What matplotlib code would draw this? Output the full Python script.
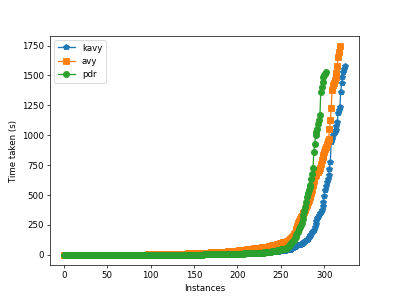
import matplotlib
matplotlib.use("Agg")
import matplotlib.pyplot as plt

# sorted run times (s) per instance
kavy = [
    0.1, 0.1, 0.1, 0.1, 0.1, 0.1, 0.1, 0.1, 0.1, 0.1, 0.1, 0.1, 0.1, 0.1, 0.1, 0.2, 0.2, 0.2, 0.2, 0.2,
    0.2, 0.2, 0.2, 0.2, 0.2, 0.2, 0.2, 0.2, 0.2, 0.2, 0.3, 0.3, 0.3, 0.3, 0.3, 0.3, 0.3, 0.3, 0.3, 0.3,
    0.3, 0.3, 0.3, 0.3, 0.3, 0.4, 0.4, 0.4, 0.4, 0.4, 0.4, 0.4, 0.4, 0.4, 0.4, 0.5, 0.5, 0.5, 0.5, 0.5,
    0.5, 0.5, 0.5, 0.5, 0.5, 0.6, 0.6, 0.6, 0.6, 0.6, 0.6, 0.6, 0.6, 0.6, 0.6, 0.7, 0.7, 0.7, 0.7, 0.7,
    0.8, 0.8, 0.8, 0.8, 0.8, 0.8, 0.8, 0.8, 0.8, 0.8, 0.9, 0.9, 0.9, 0.9, 0.9, 1.0, 1.0, 1.0, 1.0, 1.0,
    1.1, 1.1, 1.2, 1.2, 1.3, 1.3, 1.4, 1.4, 1.5, 1.5, 1.6, 1.6, 1.7, 1.7, 1.8, 1.8, 1.9, 1.9, 2.0, 2.0,
    2.1, 2.1, 2.2, 2.2, 2.3, 2.4, 2.4, 2.5, 2.6, 2.6, 2.7, 2.8, 2.8, 2.9, 3.0, 3.0, 3.1, 3.2, 3.3, 3.3,
    3.4, 3.5, 3.6, 3.6, 3.7, 3.8, 3.9, 4.0, 4.0, 4.1, 4.2, 4.3, 4.4, 4.5, 4.6, 4.7, 4.8, 4.9, 5.0, 5.1,
    5.2, 5.3, 5.4, 5.5, 5.6, 5.7, 5.8, 5.9, 6.0, 6.1, 6.2, 6.3, 6.4, 6.5, 6.6, 6.7, 6.8, 6.9, 7.0, 7.1,
    7.2, 7.4, 7.5, 7.6, 7.8, 7.9, 8.0, 8.2, 8.3, 8.5, 8.6, 8.8, 8.9, 9.1, 9.2, 9.4, 9.6, 9.7, 9.9, 10.1,
    10.2, 10.4, 10.6, 10.8, 11.0, 11.2, 11.4, 11.6, 11.8, 12.0, 12.2, 12.4, 12.6, 12.8, 13.0, 13.3, 13.6, 13.9, 14.2, 14.5,
    14.8, 15.1, 15.4, 15.7, 16.0, 16.3, 16.6, 16.9, 17.2, 17.5, 17.8, 18.1, 18.4, 18.7, 19.0, 19.2, 19.4, 19.6, 19.8, 19.9,
    20, 21, 22, 23, 24, 25, 26, 27, 28, 29,
    30, 31, 32, 33, 34, 35, 36, 38, 39, 41,
    42, 46, 50, 54, 58, 62, 66, 70, 74, 78,
    80, 82, 83, 88, 93, 98, 103, 109, 114, 120,
    125, 135, 145, 156, 167, 178, 190, 199, 208, 232,
    256, 281, 306, 320, 334, 347, 360, 375, 410, 444,
    490, 542, 575, 605, 636, 667, 720, 778, 944, 965,
    1000, 1015, 1030, 1042, 1080, 1111, 1183, 1210, 1236, 1361,
    1433, 1486, 1528, 1555, 1583,
]

avy = [
    0.2, 0.2, 0.2, 0.2, 0.2, 0.2, 0.2, 0.2, 0.2, 0.2, 0.3, 0.3, 0.3, 0.3, 0.3, 0.3, 0.3, 0.3, 0.3, 0.3,
    0.4, 0.4, 0.4, 0.4, 0.4, 0.4, 0.4, 0.4, 0.4, 0.4, 0.5, 0.5, 0.5, 0.5, 0.5, 0.5, 0.5, 0.5, 0.5, 0.5,
    0.6, 0.6, 0.6, 0.6, 0.6, 0.6, 0.6, 0.6, 0.6, 0.6, 0.7, 0.7, 0.7, 0.7, 0.7, 0.7, 0.7, 0.7, 0.7, 0.7,
    0.8, 0.8, 0.8, 0.8, 0.8, 0.9, 0.9, 0.9, 0.9, 0.9, 1.0, 1.0, 1.0, 1.0, 1.0, 1.1, 1.1, 1.1, 1.1, 1.1,
    1.2, 1.2, 1.3, 1.3, 1.4, 1.4, 1.5, 1.5, 1.6, 1.7, 1.8, 1.9, 2.0, 2.1, 2.2, 2.3, 2.4, 2.5, 2.6, 2.8,
    3.0, 3.1, 3.3, 3.4, 3.6, 3.7, 3.9, 4.0, 4.2, 4.3, 4.5, 4.6, 4.8, 4.9, 5.1, 5.2, 5.4, 5.5, 5.7, 5.8,
    6.0, 6.2, 6.4, 6.6, 6.8, 7.0, 7.2, 7.4, 7.6, 7.8, 8.0, 8.2, 8.4, 8.6, 8.8, 9.0, 9.2, 9.4, 9.6, 9.8,
    10.0, 10.3, 10.6, 10.9, 11.2, 11.5, 11.8, 12.1, 12.4, 12.7, 13.0, 13.3, 13.6, 13.9, 14.2, 14.5, 14.8, 15.1, 15.4, 15.7,
    16, 16.4, 16.8, 17.2, 17.6, 18, 18.4, 18.8, 19.2, 19.6, 20, 20.4, 20.8, 21.2, 21.6, 22, 22.4, 22.8, 23.2, 23.6,
    24, 24.4, 24.8, 25.2, 25.6, 26, 26.4, 26.8, 27.2, 27.6, 28, 28.5, 29, 29.5, 30, 30.5, 31, 31.5, 32, 33,
    34, 35, 36, 37, 38, 39, 40, 41, 42, 43, 44, 45, 46, 47, 48, 49, 50, 51, 52, 53,
    54, 55, 56, 57, 58, 59, 60, 61, 62, 63, 64, 65, 66, 67, 68, 69, 70, 72, 74, 76,
    78, 80, 82, 84, 86, 88, 90, 92, 94, 96, 98, 100, 102, 104, 106, 108, 111, 114, 118, 122,
    126, 132, 140, 150, 160, 172, 186, 200, 216, 240,
    262, 280, 298, 314, 326, 338, 350, 362, 375, 396,
    417, 438, 458, 480, 500, 521, 542, 580, 620, 657,
    670, 682, 690, 694, 712, 730, 760, 790, 815, 833,
    860, 885, 905, 925, 950, 972, 1050, 1125, 1225, 1375,
    1417, 1440, 1463, 1486, 1517, 1580, 1658, 1700, 1745,
]

pdr = [
    0.1, 0.1, 0.1, 0.1, 0.1, 0.1, 0.1, 0.1, 0.1, 0.1, 0.1, 0.1, 0.1, 0.1, 0.1, 0.1, 0.1, 0.1, 0.1, 0.1,
    0.1, 0.1, 0.1, 0.1, 0.1, 0.1, 0.1, 0.1, 0.1, 0.1, 0.2, 0.2, 0.2, 0.2, 0.2, 0.2, 0.2, 0.2, 0.2, 0.2,
    0.2, 0.2, 0.2, 0.2, 0.2, 0.2, 0.2, 0.2, 0.2, 0.2, 0.3, 0.3, 0.3, 0.3, 0.3, 0.3, 0.3, 0.3, 0.3, 0.3,
    0.3, 0.3, 0.3, 0.3, 0.3, 0.4, 0.4, 0.4, 0.4, 0.4, 0.4, 0.4, 0.4, 0.4, 0.4, 0.5, 0.5, 0.5, 0.5, 0.5,
    0.5, 0.5, 0.5, 0.5, 0.5, 0.6, 0.6, 0.6, 0.6, 0.6, 0.6, 0.6, 0.6, 0.6, 0.6, 0.7, 0.7, 0.7, 0.7, 0.7,
    0.8, 0.8, 0.8, 0.8, 0.8, 0.8, 0.8, 0.8, 0.8, 0.8, 0.9, 0.9, 0.9, 0.9, 0.9, 0.9, 0.9, 0.9, 0.9, 0.9,
    1.0, 1.0, 1.0, 1.0, 1.0, 1.1, 1.1, 1.1, 1.1, 1.1, 1.2, 1.2, 1.2, 1.2, 1.2, 1.3, 1.3, 1.3, 1.3, 1.3,
    1.4, 1.4, 1.5, 1.5, 1.6, 1.6, 1.7, 1.7, 1.8, 1.8, 1.9, 1.9, 2.0, 2.0, 2.1, 2.1, 2.2, 2.2, 2.3, 2.3,
    2.4, 2.5, 2.6, 2.7, 2.8, 2.9, 3.0, 3.1, 3.2, 3.3, 3.4, 3.5, 3.6, 3.7, 3.8, 3.9, 4.0, 4.1, 4.2, 4.3,
    4.4, 4.6, 4.8, 5.0, 5.2, 5.4, 5.6, 5.8, 6.0, 6.2, 6.4, 6.6, 6.8, 7.0, 7.2, 7.4, 7.6, 7.8, 8.0, 8.2,
    8.5, 8.8, 9.1, 9.4, 9.7, 10, 10.3, 10.6, 10.9, 11.2, 11.5, 11.8, 12.1, 12.4, 12.7, 13, 13.3, 13.6, 13.9, 14.2,
    14.6, 15, 15.4, 15.8, 16.2, 16.6, 17, 17.5, 18, 18.5, 19, 19.5, 20, 21, 22, 23, 24, 25, 26, 27,
    28, 29, 30, 31, 33, 35, 37, 39, 41, 43,
    45, 46, 47, 48, 50, 52, 54, 56, 62, 70,
    83, 91, 99, 107, 116, 125, 139, 153, 167, 180,
    194, 212, 229, 246, 264, 298, 333, 368, 403, 445,
    486, 514, 542, 563, 583, 630, 676, 722, 861, 930,
    1000, 1028, 1056, 1097, 1130, 1167, 1361, 1403, 1445, 1486,
    1500, 1515, 1528,
]

fig, ax = plt.subplots(figsize=(6.4, 4.78), dpi=62.35)

ax.plot(range(len(kavy)), kavy, marker="p", markersize=7, label="kavy")
ax.plot(range(len(avy)), avy, marker="s", markersize=7, label="avy")
ax.plot(range(len(pdr)), pdr, marker="o", markersize=7, label="pdr")

ax.set_xlabel("Instances")
ax.set_ylabel("Time taken (s)")
ax.legend(loc="upper left")

fig.savefig("out.png")
